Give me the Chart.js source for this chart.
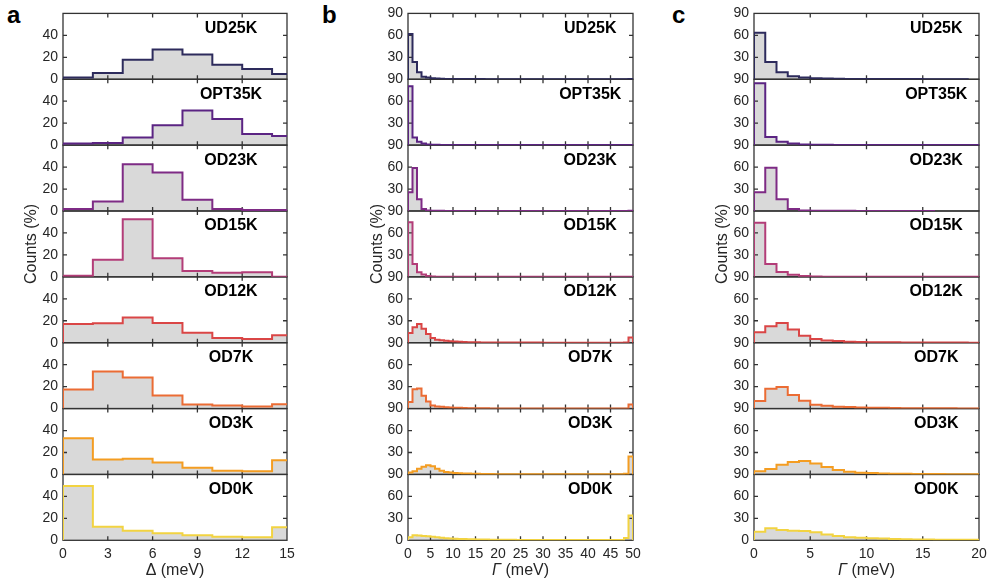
<!DOCTYPE html>
<html lang="en">
<head>
<meta charset="UTF-8">
<title>Gap and broadening histograms</title>
<script src="https://cdn.jsdelivr.net/npm/chart.js@4"></script>
<style>
  body {
    margin: 0;
    background: #fff;
    width: 992px;
    height: 585px;
    overflow: hidden;
    position: relative;
    font-family: 'Liberation Sans', Arial, sans-serif;
  }
  .panel { position: absolute; top: 0; height: 585px; }
  .letter {
    position: absolute;
    top: 3px;
    font-weight: bold;
    font-size: 24px;
    line-height: 24px;
    color: #000;
  }
</style>
</head>
<body>
<div class="letter" style="left:7px">a</div>
<div class="letter" style="left:322px">b</div>
<div class="letter" style="left:672px">c</div>
<div class="panel" style="left:0;width:300px"><canvas id="chartA"></canvas></div>
<div class="panel" style="left:330px;width:320px"><canvas id="chartB"></canvas></div>
<div class="panel" style="left:675px;width:317px"><canvas id="chartC"></canvas></div>
<script>
// samples, top to bottom
const samples = ['UD25K', 'OPT35K', 'OD23K', 'OD15K', 'OD12K', 'OD7K', 'OD3K', 'OD0K'];
const lineColors = ['#2d2b5c', '#5b2483', '#7e2b85', '#b33d78', '#da4646', '#eb6c34', '#f49d22', '#f2d341'];

// panel a: gap histograms, 2 meV bins (%)
const deltaBinWidth = 2;
const deltaCounts = [
  [1.5, 5.7, 17.7, 27.0, 22.5, 13.2, 9.3, 4.8],
  [1.5, 2.0, 6.9, 18.0, 31.6, 23.8, 10.2, 8.4],
  [1.8, 8.6, 42.5, 35.0, 10.3, 1.8, 1.0, 1.0],
  [1.0, 15.5, 52.5, 17.0, 5.3, 3.7, 4.3, 0],
  [17.0, 17.8, 23.0, 18.0, 9.0, 4.3, 3.4, 6.8],
  [17.3, 33.7, 28.4, 12.0, 3.6, 2.7, 2.0, 3.9],
  [33.0, 13.5, 14.2, 10.8, 6.2, 3.4, 3.0, 13.0],
  [49.4, 12.4, 8.8, 6.4, 4.5, 3.3, 2.7, 11.8]
];

// panel b: broadening histograms up to 50 meV, 1 meV bins (%)
const gammaBinWidth = 1;
const gammaWideCounts = [
  [61.8, 23.6, 9.5, 3.6, 2.3, 1.4, 0.9, 0.7, 0.5, 0.4,
   0.3, 0.3, 0.3, 0.2, 0.2, 0.2, 0.2, 0.1, 0.1, 0.1,
   0.1, 0.1, 0.1, 0.1, 0.1, 0.1, 0.1, 0.1, 0.1, 0.1,
   0.1, 0.1, 0.1, 0.1, 0.1, 0.1, 0.1, 0.1, 0.1, 0.1,
   0.1, 0.1, 0.1, 0.1, 0.1, 0.1, 0.1, 0.1, 0.1, 0.5],
  [80.5, 10.5, 4.5, 2.3, 1.0, 0.5, 0.4, 0.3, 0.2, 0.2,
   0.1, 0.1, 0.1, 0.1, 0.1, 0.1, 0.1, 0.1, 0.1, 0.1,
   0.1, 0.1, 0.1, 0.1, 0.1, 0.1, 0.1, 0.1, 0.1, 0.1,
   0.1, 0.1, 0.1, 0.1, 0.1, 0.1, 0.1, 0.1, 0.1, 0.1,
   0.1, 0.1, 0.1, 0.1, 0.1, 0.1, 0.1, 0.1, 0.1, 0.3],
  [25.5, 58.6, 16.0, 2.7, 0.8, 0.4, 0.3, 0.2, 0.1, 0.1,
   0.1, 0.1, 0.1, 0.1, 0.1, 0.1, 0.1, 0.1, 0.1, 0.1,
   0.1, 0.1, 0.1, 0.1, 0.1, 0.1, 0.1, 0.1, 0.1, 0.1,
   0.1, 0.1, 0.1, 0.1, 0.1, 0.1, 0.1, 0.1, 0.1, 0.1,
   0.1, 0.1, 0.1, 0.1, 0.1, 0.1, 0.1, 0.1, 0.1, 0.2],
  [74.5, 17.7, 6.4, 3.2, 1.0, 0.5, 0.3, 0.2, 0.1, 0.1,
   0.1, 0.1, 0.1, 0.1, 0.1, 0.1, 0.1, 0.1, 0.1, 0.1,
   0.1, 0.1, 0.1, 0.1, 0.1, 0.1, 0.1, 0.1, 0.1, 0.1,
   0.1, 0.1, 0.1, 0.1, 0.1, 0.1, 0.1, 0.1, 0.1, 0.1,
   0.1, 0.1, 0.1, 0.1, 0.1, 0.1, 0.1, 0.1, 0.1, 0.3],
  [13.2, 21.0, 25.5, 19.0, 11.8, 6.4, 4.0, 3.2, 2.7, 2.0,
   1.6, 1.4, 1.0, 0.8, 0.7, 0.5, 0.4, 0.4, 0.3, 0.3,
   0.2, 0.2, 0.2, 0.2, 0.2, 0.2, 0.2, 0.2, 0.2, 0.2,
   0.1, 0.1, 0.1, 0.1, 0.1, 0.1, 0.1, 0.1, 0.1, 0.1,
   0.1, 0.1, 0.1, 0.1, 0.1, 0.1, 0.1, 0.1, 0.2, 7.0],
  [9.0, 26.5, 27.5, 17.5, 9.6, 4.3, 3.0, 2.4, 1.9, 1.5,
   1.2, 1.0, 0.8, 0.6, 0.5, 0.4, 0.3, 0.3, 0.2, 0.2,
   0.2, 0.2, 0.2, 0.2, 0.2, 0.2, 0.2, 0.2, 0.2, 0.2,
   0.1, 0.1, 0.1, 0.1, 0.1, 0.1, 0.1, 0.1, 0.1, 0.1,
   0.1, 0.1, 0.1, 0.1, 0.1, 0.1, 0.1, 0.1, 0.2, 5.5],
  [2.7, 4.5, 7.7, 10.6, 12.5, 11.2, 7.9, 5.0, 3.4, 2.5,
   2.0, 1.7, 1.4, 1.2, 1.0, 0.8, 0.7, 0.6, 0.5, 0.4,
   0.4, 0.3, 0.3, 0.3, 0.3, 0.3, 0.3, 0.3, 0.3, 0.3,
   0.3, 0.3, 0.3, 0.3, 0.3, 0.3, 0.3, 0.3, 0.3, 0.3,
   0.3, 0.3, 0.3, 0.3, 0.3, 0.3, 0.3, 0.3, 1.0, 24.5],
  [4.3, 7.0, 6.4, 5.8, 5.7, 4.8, 4.0, 3.6, 2.9, 2.4,
   2.1, 1.9, 1.7, 1.5, 1.4, 1.2, 1.1, 1.0, 0.9, 0.8,
   0.7, 0.7, 0.6, 0.6, 0.5, 0.5, 0.5, 0.4, 0.4, 0.4,
   0.3, 0.3, 0.3, 0.3, 0.3, 0.3, 0.3, 0.3, 0.3, 0.3,
   0.3, 0.3, 0.3, 0.3, 0.3, 0.3, 0.3, 0.4, 3.0, 34.0]
];

// panel c: broadening histograms up to 20 meV, 1 meV bins (%)
const gammaCounts = [
  [63.6, 23.6, 9.5, 4.0, 2.3, 1.4, 0.9, 0.6, 0.5, 0.4, 0.3, 0.3, 0.2, 0.2, 0.2, 0.1, 0.1, 0.1, 0.1],
  [84.5, 11.2, 4.5, 2.3, 1.0, 0.6, 0.4, 0.3, 0.3, 0.2, 0.2, 0.2, 0.1, 0.1, 0.1, 0.1, 0.1, 0.1, 0.1, 0.1],
  [25.5, 59.0, 16.0, 2.7, 0.8, 0.4, 0.3, 0.2, 0.2, 0.1, 0.1, 0.1, 0.1, 0.1, 0.1, 0.1],
  [73.8, 17.5, 6.6, 3.0, 1.0, 0.5, 0.3, 0.3, 0.2, 0.2, 0.1, 0.1, 0.1, 0.1, 0.1, 0.1, 0.1, 0.1, 0.1, 0.1],
  [14.3, 22.5, 27.0, 18.0, 9.6, 5.0, 3.0, 2.2, 1.4, 1.0, 0.8, 0.6, 0.5, 0.4, 0.3, 0.3, 0.2, 0.2, 0.2, 0.1],
  [10.5, 27.0, 29.5, 18.5, 10.7, 5.2, 3.8, 2.6, 2.0, 1.5, 1.2, 1.0, 0.8, 0.6, 0.5, 0.4, 0.3, 0.3, 0.2, 0.2],
  [4.5, 7.5, 13.2, 17.0, 18.4, 14.8, 10.2, 6.2, 3.8, 2.3, 1.8, 1.4, 1.1, 0.9, 0.7, 0.6, 0.5, 0.4, 0.3, 0.3],
  [11.8, 16.4, 14.0, 13.0, 12.8, 11.0, 8.0, 5.9, 4.2, 3.4, 2.8, 2.3, 1.9, 1.5, 1.2, 1.0, 0.9, 0.8, 0.7, 0.6]
];

// tick labels
const deltaTicks = [0, 3, 6, 9, 12, 15];
const gammaWideTicks = [0, 5, 10, 15, 20, 25, 30, 35, 40, 45, 50];
const gammaTicks = [0, 5, 10, 15, 20];
const deltaCountTicks = [0, 20, 40];
const gammaCountTicks = [0, 30, 60, 90];

const axisColor = '#333333';
const textColor = '#262626';
const fontFamily = "'Liberation Sans', Arial, sans-serif";

// box around every row, with inward ticks on all four sides
const framesPlugin = {
  id: 'frames',
  beforeDatasetsDraw(chart) {
    const ctx = chart.ctx;
    const x = chart.scales.x;
    const xPix = x.ticks.map(t => x.getPixelForValue(t.value))
      .filter(p => p > x.left + 1 && p < x.right - 1);
    ctx.save();
    ctx.strokeStyle = axisColor;
    ctx.lineWidth = 1.3;
    Object.values(chart.scales).filter(s => s.axis === 'y').forEach(s => {
      ctx.strokeRect(x.left, s.top, x.right - x.left, s.bottom - s.top);
      ctx.beginPath();
      s.ticks.forEach(t => {
        const p = s.getPixelForValue(t.value);
        if (p < s.top + 1 || p > s.bottom - 1) return;
        ctx.moveTo(x.left, p); ctx.lineTo(x.left + 4, p);
        ctx.moveTo(x.right, p); ctx.lineTo(x.right - 4, p);
      });
      xPix.forEach(p => {
        ctx.moveTo(p, s.top); ctx.lineTo(p, s.top + 4);
        ctx.moveTo(p, s.bottom); ctx.lineTo(p, s.bottom - 4);
      });
      ctx.stroke();
    });
    ctx.restore();
  },
  afterDraw(chart, args, opts) {
    const ctx = chart.ctx;
    const x = chart.scales.x;
    ctx.save();
    // sample names
    ctx.font = 'bold 16px ' + fontFamily;
    ctx.fillStyle = '#000';
    ctx.textAlign = 'center';
    ctx.textBaseline = 'middle';
    samples.forEach((name, i) => {
      const s = chart.scales['y' + i];
      ctx.fillText(name, x.left + opts.nameFrac * (x.right - x.left), s.top + 15);
    });
    // x axis label, symbol part possibly italic
    const symFont = (opts.italic ? 'italic ' : '') + '16px ' + fontFamily;
    const restFont = '16px ' + fontFamily;
    ctx.font = symFont;
    const w1 = ctx.measureText(opts.symbol).width;
    ctx.font = restFont;
    const w2 = ctx.measureText(' (meV)').width;
    let cx = (x.left + x.right) / 2 - (w1 + w2) / 2;
    ctx.textAlign = 'left';
    ctx.fillStyle = textColor;
    ctx.font = symFont;
    ctx.fillText(opts.symbol, cx, 571);
    ctx.font = restFont;
    ctx.fillText(' (meV)', cx + w1, 571);
    ctx.restore();
  }
};

function histPoints(counts, binWidth) {
  const pts = [{x: 0, y: 0}];
  counts.forEach((v, k) => pts.push({x: k * binWidth, y: v}));
  pts.push({x: counts.length * binWidth, y: 0});
  return pts;
}

function makeColumn(cfg) {
  const tickFont = {family: fontFamily, size: 14};
  const scales = {
    x: {
      type: 'linear', position: 'bottom', min: 0, max: cfg.xMax,
      afterBuildTicks: s => { s.ticks = cfg.xTicks.map(v => ({value: v})); },
      ticks: {autoSkip: false, maxRotation: 0, padding: 5, font: tickFont, color: textColor},
      grid: {display: false, drawTicks: false},
      border: {display: false},
      afterFit: s => { s.height = 44.7; }
    }
  };
  samples.forEach((name, i) => {
    scales['y' + i] = {
      type: 'linear', position: 'left', stack: 'rows', stackWeight: 1,
      weight: samples.length - i,
      min: 0, max: cfg.yMax,
      afterBuildTicks: s => { s.ticks = cfg.yTicks.map(v => ({value: v})); },
      ticks: {
        autoSkip: false, padding: 5, font: tickFont, color: textColor,
        callback: v => (cfg.hideZero && v === 0 && i < samples.length - 1) ? '' : String(v)
      },
      grid: {display: false, drawTicks: false},
      border: {display: false},
      title: {
        display: i === 3, text: 'Counts (%)', color: textColor,
        font: {family: fontFamily, size: 16}, padding: {top: cfg.titlePad, bottom: 0}
      },
      afterFit: s => { s.width = cfg.yWidth; }
    };
  });

  const datasets = samples.map((name, i) => ({
    label: name,
    data: histPoints(cfg.counts[i], cfg.binWidth),
    xAxisID: 'x',
    yAxisID: 'y' + i,
    stepped: 'before',
    borderColor: lineColors[i],
    borderWidth: 2,
    backgroundColor: '#d9d9d9',
    fill: 'origin',
    pointRadius: 0,
    tension: 0
  }));

  return new Chart(document.getElementById(cfg.id), {
    type: 'line',
    data: {datasets},
    options: {
      responsive: true,
      maintainAspectRatio: false,
      animation: false,
      devicePixelRatio: 1,
      layout: {padding: {left: 0, top: 13.3, right: cfg.rightPad, bottom: 0}},
      scales,
      plugins: {
        legend: {display: false},
        tooltip: {enabled: false},
        filler: {drawTime: 'beforeDatasetsDraw'},
        frames: {nameFrac: cfg.nameFrac, symbol: cfg.symbol, italic: cfg.italic}
      }
    },
    plugins: [framesPlugin]
  });
}

makeColumn({
  id: 'chartA', counts: deltaCounts, binWidth: deltaBinWidth,
  xMax: 15, xTicks: deltaTicks, yMax: 60, yTicks: deltaCountTicks, hideZero: false,
  yWidth: 63, rightPad: 13, titlePad: 22, nameFrac: 0.75, symbol: 'Δ', italic: false
});
makeColumn({
  id: 'chartB', counts: gammaWideCounts, binWidth: gammaBinWidth,
  xMax: 50, xTicks: gammaWideTicks, yMax: 90, yTicks: gammaCountTicks, hideZero: true,
  yWidth: 78, rightPad: 17, titlePad: 38, nameFrac: 0.81, symbol: 'Γ', italic: true
});
makeColumn({
  id: 'chartC', counts: gammaCounts, binWidth: gammaBinWidth,
  xMax: 20, xTicks: gammaTicks, yMax: 90, yTicks: gammaCountTicks, hideZero: true,
  yWidth: 79, rightPad: 13, titlePad: 38, nameFrac: 0.81, symbol: 'Γ', italic: true
});
</script>
</body>
</html>
